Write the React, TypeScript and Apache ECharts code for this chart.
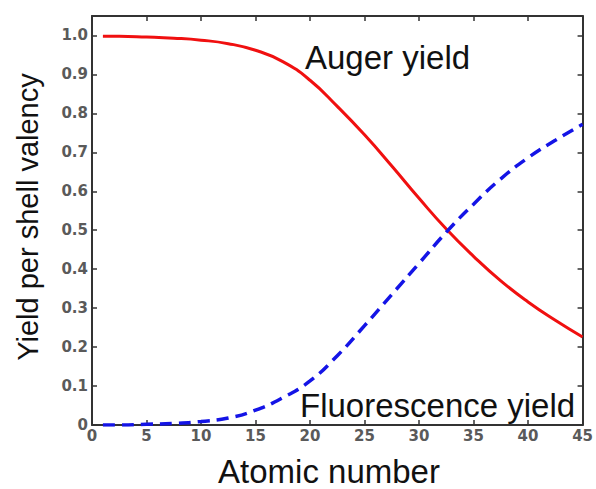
import React, { useEffect, useRef } from "react";
import * as echarts from "echarts";

const atomicNumbers = [1, 2.5, 5, 7.5, 10, 12.5, 15, 17.5, 20, 22.5, 25, 27.5, 30, 32.5, 35, 37.5, 40, 42.5, 45];
const augerYield = [0.998, 0.998, 0.996, 0.993, 0.988, 0.979, 0.962, 0.933, 0.885, 0.818, 0.745, 0.665, 0.582, 0.503, 0.433, 0.37, 0.316, 0.269, 0.226];
const fluorescenceYield = [0.0, 0.0, 0.002, 0.004, 0.009, 0.018, 0.038, 0.07, 0.113, 0.178, 0.255, 0.335, 0.415, 0.495, 0.567, 0.632, 0.686, 0.731, 0.772];

const xTitle = "Atomic number";
const yTitle = "Yield per shell valency";
const augerLabel = "Auger yield";
const fluoLabel = "Fluorescence yield";

export default function App() {
  const ref = useRef<HTMLDivElement>(null);
  useEffect(() => {
    if (!ref.current) return;
    const chart = echarts.init(ref.current, null, { renderer: "svg" });
    const frame = { show: true, onZero: false, lineStyle: { color: "#333", width: 2 } };
    const ticks = { show: true, inside: true, length: 5, lineStyle: { color: "#333", width: 1.5 } };
    const labelStyle = {
      fontFamily: "DejaVu Sans",
      fontSize: 15,
      fontWeight: "bold" as const,
      color: "#5a5a5a",
    };
    const titleFont = "Liberation Sans, Arial";
    chart.setOption({
      animation: false,
      backgroundColor: "#fff",
      grid: { left: 92, right: 9, top: 16, bottom: 64, containLabel: false },
      xAxis: [
        {
          type: "value",
          min: 0,
          max: 45,
          interval: 5,
          position: "bottom",
          axisLine: frame,
          axisTick: ticks,
          splitLine: { show: false },
          axisLabel: { ...labelStyle, margin: 3 },
        },
        {
          type: "value",
          min: 0,
          max: 45,
          interval: 5,
          position: "top",
          axisLine: frame,
          axisTick: ticks,
          splitLine: { show: false },
          axisLabel: { show: false },
        },
      ],
      yAxis: [
        {
          type: "value",
          min: 0,
          max: 1.05,
          interval: 0.1,
          position: "left",
          axisLine: frame,
          axisTick: ticks,
          splitLine: { show: false },
          axisLabel: {
            ...labelStyle,
            margin: 4,
            formatter: (v: number) => {
              if (v > 1.001) return "";
              if (Math.abs(v) < 1e-9) return "0";
              return v.toFixed(1);
            },
          },
        },
        {
          type: "value",
          min: 0,
          max: 1.05,
          interval: 0.1,
          position: "right",
          axisLine: frame,
          axisTick: ticks,
          splitLine: { show: false },
          axisLabel: { show: false },
        },
      ],
      series: [
        {
          type: "line",
          name: augerLabel,
          data: atomicNumbers.map((z, i) => [z, augerYield[i]]),
          smooth: 0.5,
          showSymbol: false,
          lineStyle: { color: "#f01010", width: 3 },
          xAxisIndex: 0,
          yAxisIndex: 0,
        },
        {
          type: "line",
          name: fluoLabel,
          data: atomicNumbers.map((z, i) => [z, fluorescenceYield[i]]),
          smooth: 0.5,
          showSymbol: false,
          lineStyle: { color: "#1414e6", width: 3.5, type: [12, 7] },
          xAxisIndex: 0,
          yAxisIndex: 0,
        },
      ],
      graphic: [
        {
          type: "text",
          x: 305,
          y: 57,
          style: {
            text: augerLabel,
            fontFamily: titleFont,
            fontSize: 33,
            fill: "#111",
            verticalAlign: "middle",
            align: "left",
          },
        },
        {
          type: "text",
          x: 300,
          y: 405,
          style: {
            text: fluoLabel,
            fontFamily: titleFont,
            fontSize: 33,
            fill: "#111",
            verticalAlign: "middle",
            align: "left",
          },
        },
        {
          type: "text",
          x: 329,
          y: 471,
          style: {
            text: xTitle,
            fontFamily: titleFont,
            fontSize: 33,
            fill: "#111",
            verticalAlign: "middle",
            align: "center",
          },
        },
        {
          type: "text",
          x: 28,
          y: 217,
          rotation: Math.PI / 2,
          style: {
            text: yTitle,
            fontFamily: titleFont,
            fontSize: 29,
            fill: "#111",
            verticalAlign: "middle",
            align: "center",
          },
        },
      ],
    });
    return () => chart.dispose();
  }, []);
  return (
    <div
      ref={ref}
      style={{ width: 596, height: 489, position: "absolute", left: 0, top: 0 }}
    />
  );
}
